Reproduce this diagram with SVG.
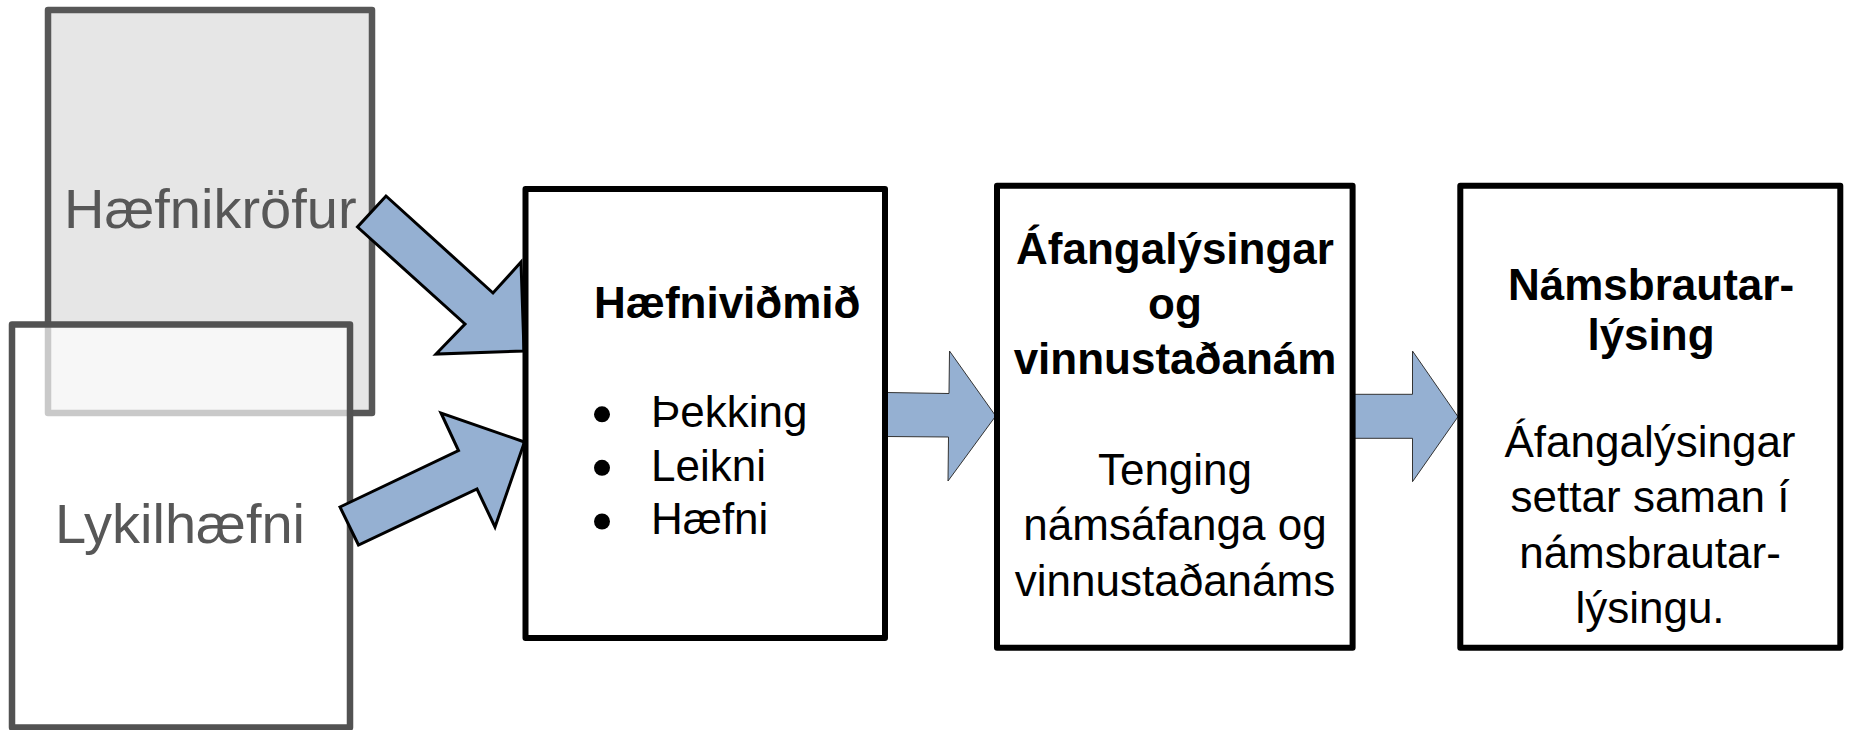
<svg xmlns="http://www.w3.org/2000/svg" width="1849" height="730" viewBox="0 0 1849 730">
<style>
.src{stroke-width:6.5;stroke-linejoin:round}
.gt{font-family:"Liberation Sans",Arial,sans-serif;font-size:56px;fill:#575757}
.box{fill:#ffffff;stroke:#000000;stroke-width:6;stroke-linejoin:round}
.t{font-family:"Liberation Sans",Arial,sans-serif;font-size:44px;fill:#000000}
.b{font-weight:bold}
.bigarrow{fill:#95b0d2;stroke:#000000;stroke-width:3;stroke-linejoin:miter}
.arrow{fill:#95b0d2;stroke:#333333;stroke-width:1}
</style>
<rect width="1849" height="730" fill="#ffffff"/>
<g id="node-haefnikrofur">
<rect class="src" x="48" y="10" width="324" height="403" fill="#e6e6e6" stroke="#575757"/>
<text class="gt" x="64" y="228">Hæfnikröfur</text>
</g>
<g id="node-lykilhaefni">
<rect class="src" x="12" y="324.5" width="338" height="403" fill="#ffffff" fill-opacity="0.68" stroke="#525252"/>
<text class="gt" x="55" y="543">Lykilhæfni</text>
</g>
<g id="connectors">
<polygon class="bigarrow" points="386,196 493,293 521,262 524,351 436,354 465,324 357.5,227"/>
<polygon class="bigarrow" points="340,507 458.5,450.5 441,413 524.5,442 495,527 477,489 358.5,545"/>
<polygon class="arrow" points="886,392.5 949,393.5 949.5,351 995.7,416 948,481 948.5,437 886,436.5"/>
<polygon class="arrow" points="1354,394.3 1412.5,394.3 1412.5,351 1458,416.7 1412.5,481.7 1412.5,438.3 1354,438.3"/>
</g>
<g id="node-haefnividmid">
<rect class="box" x="525.5" y="189" width="359.5" height="449"/>
<text class="t b" x="594" y="318">Hæfniviðmið</text>
<circle cx="602" cy="414.3" r="8" fill="#000"/>
<circle cx="602" cy="467.8" r="8" fill="#000"/>
<circle cx="602" cy="521.5" r="8" fill="#000"/>
<text class="t" x="651" y="427.3">Þekking</text>
<text class="t" x="651" y="480.5">Leikni</text>
<text class="t" x="651" y="534.3">Hæfni</text>
</g>
<g id="node-afangalysingar">
<rect class="box" x="997" y="185.7" width="355.6" height="462"/>
<g text-anchor="middle">
<text class="t b" x="1175" y="264">Áfangalýsingar</text>
<text class="t b" x="1175" y="319">og</text>
<text class="t b" x="1175" y="374">vinnustaðanám</text>
<text class="t" x="1175" y="485">Tenging</text>
<text class="t" x="1175" y="540">námsáfanga og</text>
<text class="t" x="1175" y="595.5">vinnustaðanáms</text>
</g>
</g>
<g id="node-namsbrautarlysing">
<rect class="box" x="1460.3" y="185.7" width="380" height="462"/>
<g text-anchor="middle">
<text class="t b" x="1651" y="300">Námsbrautar-</text>
<text class="t b" x="1651" y="350">lýsing</text>
<text class="t" x="1650" y="457">Áfangalýsingar</text>
<text class="t" x="1650" y="512">settar saman í</text>
<text class="t" x="1650" y="568">námsbrautar-</text>
<text class="t" x="1650" y="623">lýsingu.</text>
</g>
</g>
</svg>
